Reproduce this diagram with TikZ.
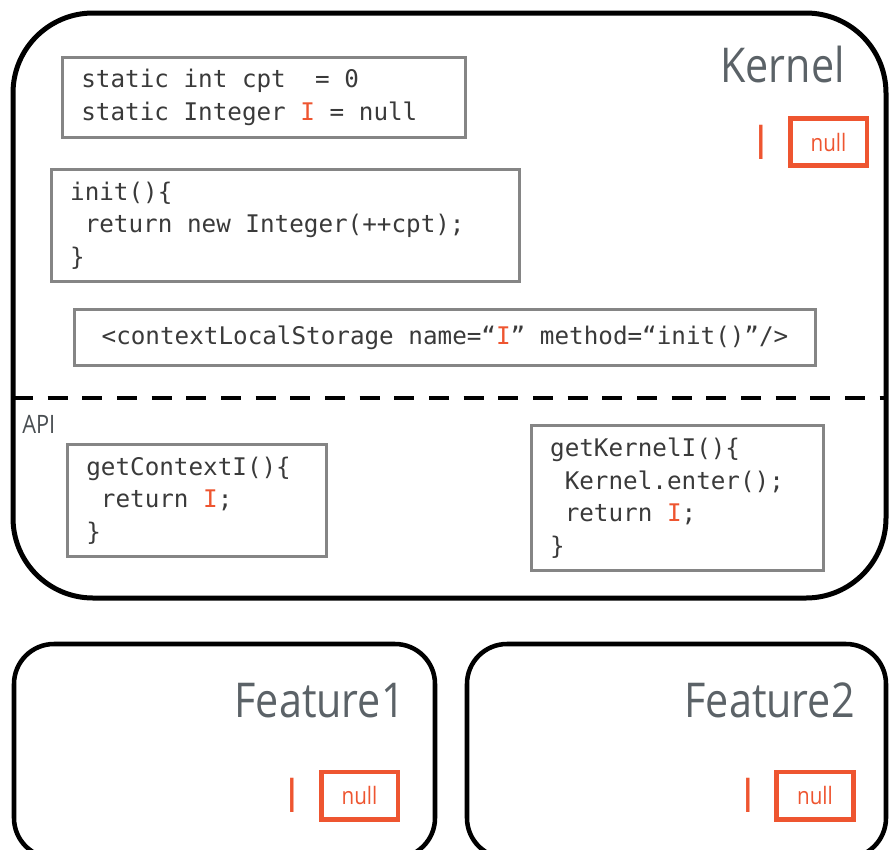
\documentclass[tikz,border=0pt]{standalone}
\usepackage{fontspec}
\setmainfont{Open Sans}
\setmonofont{DejaVu Sans Mono}
\newfontfamily\thinfont[FakeStretch=0.86]{Open Sans}
\usetikzlibrary{positioning}

\definecolor{hiorange}{HTML}{EE5530}
\definecolor{codegray}{HTML}{3A3A3A}
\definecolor{boxgray}{HTML}{858585}
\definecolor{titlegray}{HTML}{5B6267}
\newcommand{\hiI}{\textcolor{hiorange}{I}}

\begin{document}
\begin{tikzpicture}[x=0.75pt, y=-0.75pt,
        outerbox/.style={draw=black, line width=3.75pt, rounded corners=60pt},
        featbox/.style={draw=black, line width=3.4pt, rounded corners=30pt},
        divider/.style={draw=black, line width=3pt, dash pattern=on 15pt off 11pt},
        codebox/.style={rectangle, draw=boxgray, line width=2.25pt, inner xsep=14pt, align=flush left, text=codegray, font=\ttfamily\fontsize{18.2}{24.4}\selectfont},
        nullbox/.style={rectangle, draw=hiorange, line width=3.4pt, minimum width=57.4pt, minimum height=35.6pt, text=hiorange, font=\thinfont\fontsize{18}{18}\selectfont},
        ilabel/.style={inner sep=0pt, text=hiorange, font=\thinfont\fontsize{36}{36}\selectfont},
        title/.style={inner sep=0pt, text=titlegray, font=\thinfont\fontsize{36}{36}\selectfont}]

        \useasboundingbox (0,0) rectangle (893,850);

        % Kernel
        \draw[outerbox] (13,13) rectangle (886,598);
        \draw[divider] (13,398) -- (886,398);
        \node[title, anchor=base east] (kname) at (845,82) {Kernel};
        \node[nullbox] (nullk) at (828.5,142) {null};
        \node[ilabel, left=15.5pt of nullk] (ik) {I};

        \node[codebox, text width=274pt, minimum height=60pt] (vars) at (264,97.5)
            {static int cpt\ \ = 0\\static Integer \hiI{} = null};
        \node[codebox, text width=323pt, minimum height=84pt] (init) at (285.5,225.5)
            {init()\{\\\ return new Integer(++cpt);\\\}};
        \node[codebox, align=center, minimum width=556pt, minimum height=42pt] (cls) at (445,337.5)
            {<contextLocalStorage name=“\hiI” method=“init()”/>};

        % API
        \node[anchor=base west, inner sep=0pt, text=titlegray!80!black, font=\thinfont\fontsize{19}{19}\selectfont] (api) at (22,433) {API};
        \node[codebox, text width=166pt, minimum height=84pt] (getctx) at (197,500.5)
            {getContextI()\{\\\ return \hiI;\\\}};
        \node[codebox, text width=191pt, minimum height=108.75pt] (getkern) at (677.5,498)
            {getKernelI()\{\\\ Kernel.enter();\\\ return \hiI;\\\}};

        % Features
        \draw[featbox] (14,644) rectangle (435,858);
        \node[title, anchor=base east] (fname1) at (405,717) {Feature1};
        \node[nullbox] (nullf1) at (359.5,795.5) {null};
        \node[ilabel, left=15.5pt of nullf1] (if1) {I};

        \draw[featbox] (467,644) rectangle (886,858);
        \node[title, anchor=base east] (fname2) at (855,717) {Feature2};
        \node[nullbox] (nullf2) at (815,795.5) {null};
        \node[ilabel, left=15.5pt of nullf2] (if2) {I};
    \end{tikzpicture}
\end{document}
